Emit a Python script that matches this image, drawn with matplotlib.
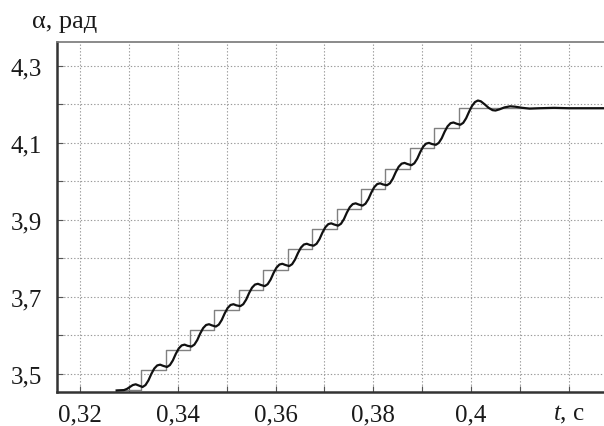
import matplotlib
matplotlib.use("Agg")
import matplotlib.pyplot as plt
from matplotlib.ticker import FixedLocator

plt.rcParams['font.family'] = ['Liberation Serif', 'DejaVu Serif']
plt.rcParams['mathtext.fontset'] = 'custom'
plt.rcParams['mathtext.it'] = 'Liberation Serif:italic'
plt.rcParams['mathtext.rm'] = 'Liberation Serif'

# задание: ступенчатый сигнал (моменты переключения и уровни)
step_t = [0.3275, 0.3325, 0.3375, 0.3425, 0.3475, 0.3525, 0.3575, 0.3625,
          0.3675, 0.3725, 0.3775, 0.3825, 0.3875, 0.3925, 0.3975, 0.4275]
step_a = [3.457, 3.509, 3.562, 3.614, 3.667, 3.719, 3.771, 3.824,
          3.876, 3.928, 3.981, 4.033, 4.086, 4.138, 4.190, 4.190]

# отработка угла
resp_t = [0.3275, 0.3290, 0.3296, 0.3302, 0.3308, 0.3314, 0.3320,
          0.3328, 0.3334, 0.3340, 0.3346, 0.3352, 0.3358, 0.3364, 0.3370,
          0.3378, 0.3384, 0.3390, 0.3396, 0.3402, 0.3408, 0.3414, 0.3420,
          0.3428, 0.3434, 0.3440, 0.3446, 0.3452, 0.3458, 0.3464, 0.3470,
          0.3478, 0.3484, 0.3490, 0.3496, 0.3502, 0.3508, 0.3514, 0.3520,
          0.3528, 0.3534, 0.3540, 0.3546, 0.3552, 0.3558, 0.3564, 0.3570,
          0.3578, 0.3584, 0.3590, 0.3596, 0.3602, 0.3608, 0.3614, 0.3620,
          0.3628, 0.3634, 0.3640, 0.3646, 0.3652, 0.3658, 0.3664, 0.3670,
          0.3678, 0.3684, 0.3690, 0.3696, 0.3702, 0.3708, 0.3714, 0.3720,
          0.3728, 0.3734, 0.3740, 0.3746, 0.3752, 0.3758, 0.3764, 0.3770,
          0.3778, 0.3784, 0.3790, 0.3796, 0.3802, 0.3808, 0.3814, 0.3820,
          0.3828, 0.3834, 0.3840, 0.3846, 0.3852, 0.3858, 0.3864, 0.3870,
          0.3878, 0.3884, 0.3890, 0.3896, 0.3902, 0.3908, 0.3914, 0.3920,
          0.3928, 0.3934, 0.3940, 0.3946, 0.3952, 0.3958, 0.3964, 0.3970,
          0.3978, 0.3984, 0.3990, 0.3996, 0.4002, 0.4008, 0.4014, 0.4020,
          0.4028, 0.4036, 0.4044, 0.4050, 0.4058, 0.4068, 0.4080, 0.4090,
          0.4105, 0.4120, 0.4140, 0.4170, 0.4200, 0.4275]
resp_a = [3.457, 3.458, 3.461, 3.466, 3.471, 3.473, 3.470,
          3.466, 3.471, 3.483, 3.500, 3.514, 3.522, 3.524, 3.521,
          3.518, 3.523, 3.535, 3.552, 3.566, 3.574, 3.576, 3.573,
          3.571, 3.576, 3.588, 3.605, 3.619, 3.627, 3.629, 3.626,
          3.623, 3.628, 3.640, 3.657, 3.671, 3.679, 3.681, 3.678,
          3.676, 3.681, 3.693, 3.710, 3.724, 3.732, 3.734, 3.731,
          3.728, 3.733, 3.745, 3.762, 3.776, 3.784, 3.786, 3.783,
          3.780, 3.785, 3.797, 3.814, 3.828, 3.836, 3.838, 3.835,
          3.833, 3.838, 3.850, 3.867, 3.881, 3.889, 3.891, 3.888,
          3.885, 3.890, 3.902, 3.919, 3.933, 3.941, 3.943, 3.940,
          3.937, 3.942, 3.954, 3.971, 3.985, 3.993, 3.995, 3.992,
          3.990, 3.995, 4.007, 4.024, 4.038, 4.046, 4.048, 4.045,
          4.042, 4.047, 4.059, 4.076, 4.090, 4.098, 4.100, 4.097,
          4.095, 4.100, 4.112, 4.129, 4.143, 4.151, 4.153, 4.150,
          4.147, 4.152, 4.164, 4.181, 4.196, 4.206, 4.210, 4.208,
          4.200, 4.191, 4.185, 4.184, 4.187, 4.192, 4.195, 4.194,
          4.191, 4.189, 4.190, 4.191, 4.190, 4.190]

x_ticks = [0.32, 0.33, 0.34, 0.35, 0.36, 0.37, 0.38, 0.39, 0.40, 0.41, 0.42]
x_labels = ['0,32', '', '0,34', '', '0,36', '', '0,38', '', '0,4', '', r'$\mathit{t}$, c']
y_ticks = [3.5, 3.6, 3.7, 3.8, 3.9, 4.0, 4.1, 4.2, 4.3]
y_labels = ['3,5', '', '3,7', '', '3,9', '', '4,1', '', '4,3']

fig = plt.figure(figsize=(6.04, 4.27), dpi=100)
ax = fig.add_axes([57 / 604, 34 / 427, 547 / 604, 350 / 427])

ax.plot(step_t, step_a, drawstyle='steps-post', color='#808080', lw=1.0, zorder=3)
ax.plot(resp_t, resp_a, color='#111111', lw=1.6, zorder=4)

ax.set_xlim(0.3153, 0.4272)
ax.set_ylim(3.453, 4.362)

ax.xaxis.set_major_locator(FixedLocator(x_ticks))
ax.set_xticklabels(x_labels)
ax.yaxis.set_major_locator(FixedLocator(y_ticks))
ax.set_yticklabels(y_labels)

ax.tick_params(axis='both', direction='in', length=4, width=0.8, color='#555555',
               labelsize=18, labelcolor='#1a1a1a')
ax.tick_params(axis='x', pad=8)
ax.tick_params(axis='y', pad=11)
ax.grid(True, linestyle=(0, (1.2, 1.8)), color='#999999', lw=0.8)

for side in ['left', 'bottom']:
    ax.spines[side].set_color('#333333')
    ax.spines[side].set_linewidth(1.8)
ax.spines['top'].set_color('#777777')
ax.spines['top'].set_linewidth(1.2)
ax.spines['right'].set_visible(False)

fig.text(32 / 604, 1 - 22 / 427, 'α, рад', fontsize=19, color='#1a1a1a',
         ha='left', va='center')

fig.savefig('out.png', dpi=100)
